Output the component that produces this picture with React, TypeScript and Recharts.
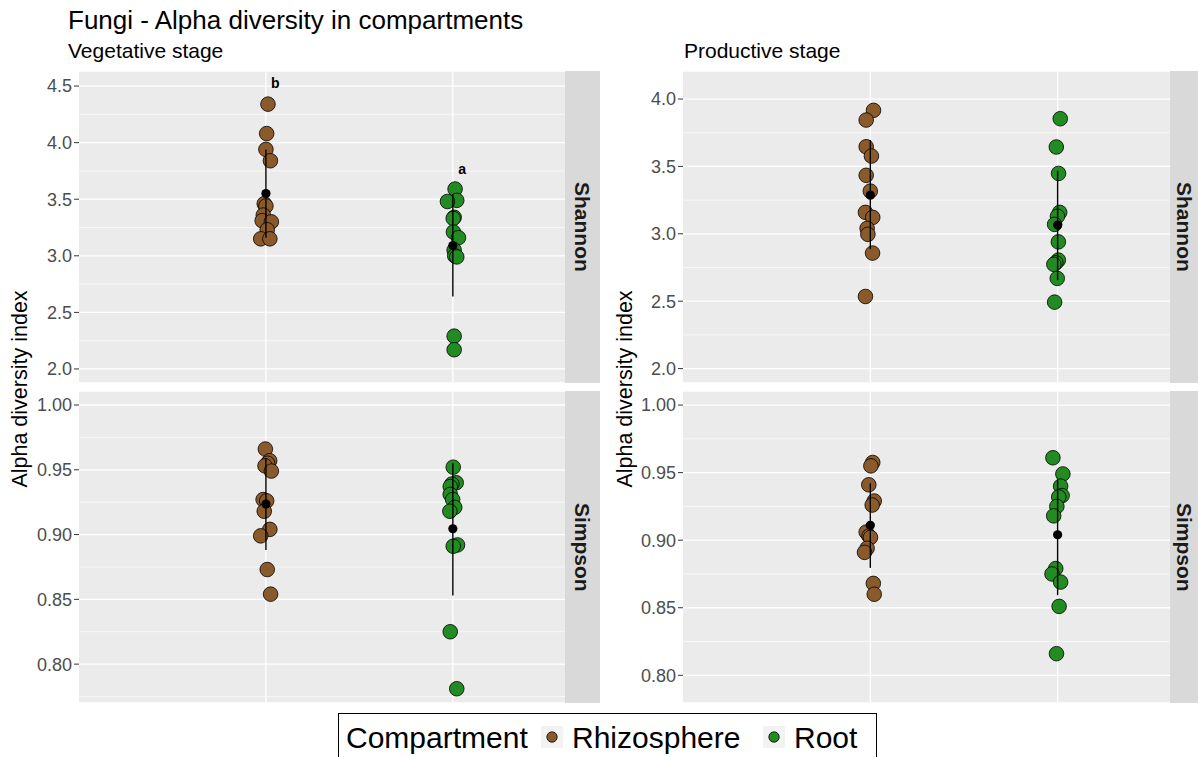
import {
  CartesianGrid,
  ReferenceLine,
  Scatter,
  ScatterChart,
  XAxis,
  YAxis,
} from "recharts";

const FONT = '"Liberation Sans", Arial, Helvetica, sans-serif';

const compartments = ["Rhizosphere", "Root"];
const COLORS = ["#8B5A2B", "#228B22"];
const stages = ["Vegetative stage", "Productive stage"];
const indices = ["Shannon", "Simpson"];
const title = "Fungi - Alpha diversity in compartments";
const yTitle = "Alpha diversity index";
const legendTitle = "Compartment";

// x jitter is in category units (Rhizosphere = 1, Root = 2)

// Vegetative stage - Shannon
const vegShannonRhizo = [4.34, 4.08, 3.94, 3.84, 3.46, 3.44, 3.36, 3.31, 3.3, 3.23, 3.15, 3.15];
const vegShannonRhizoJitter = [0.011, 0.004, 0, 0.024, -0.009, 0, -0.014, -0.02, 0.029, 0.007, -0.028, 0.021];
const vegShannonRoot = [3.59, 3.49, 3.48, 3.34, 3.33, 3.21, 3.16, 3.05, 3.0, 2.99, 2.29, 2.17];
const vegShannonRootJitter = [0.012, 0.021, -0.029, 0.007, 0.002, 0.003, 0.03, 0.007, 0.01, 0.021, 0.007, 0.007];
const vegShannonMean = [3.55, 3.09];
const vegShannonLow = [3.16, 2.64];
const vegShannonHigh = [3.94, 3.54];
const vegShannonLetters = ["b", "a"];
const vegShannonLetterY = [4.527, 3.764];

// Vegetative stage - Simpson
const vegSimpsonRhizo = [0.966, 0.957, 0.955, 0.953, 0.949, 0.927, 0.926, 0.918, 0.904, 0.899, 0.873, 0.854];
const vegSimpsonRhizoJitter = [-0.003, 0.02, 0.009, -0.005, 0.029, -0.015, 0.004, -0.009, 0.021, -0.028, 0.007, 0.025];
const vegSimpsonRoot = [0.952, 0.94, 0.939, 0.937, 0.931, 0.927, 0.921, 0.918, 0.892, 0.891, 0.825, 0.781];
const vegSimpsonRootJitter = [0.002, 0.018, -0.005, -0.014, -0.014, -0.001, 0.01, -0.016, 0.025, 0.002, -0.014, 0.021];
const vegSimpsonMean = [0.9235, 0.9045];
const vegSimpsonLow = [0.888, 0.853];
const vegSimpsonHigh = [0.959, 0.955];

// Productive stage - Shannon
const prodShannonRhizo = [3.916, 3.844, 3.646, 3.577, 3.434, 3.317, 3.159, 3.122, 3.04, 2.996, 2.857, 2.535];
const prodShannonRhizoJitter = [0.017, -0.022, -0.022, 0.006, -0.022, 0, -0.026, 0.013, -0.017, -0.013, 0.012, -0.026];
const prodShannonRoot = [3.854, 3.644, 3.448, 3.159, 3.13, 3.07, 2.94, 2.805, 2.785, 2.773, 2.669, 2.493];
const prodShannonRootJitter = [0.014, -0.007, 0.005, 0.011, -0.001, -0.016, 0.004, 0.004, -0.009, -0.02, -0.002, -0.016];
const prodShannonMean = [3.287, 3.065];
const prodShannonLow = [2.886, 2.656];
const prodShannonHigh = [3.696, 3.468];

// Productive stage - Simpson
const prodSimpsonRhizo = [0.9575, 0.955, 0.941, 0.929, 0.926, 0.906, 0.903, 0.902, 0.894, 0.891, 0.868, 0.86];
const prodSimpsonRhizoJitter = [0.013, 0.003, -0.008, 0.021, 0.01, -0.022, -0.007, 0.001, -0.017, -0.031, 0.016, 0.021];
const prodSimpsonRoot = [0.961, 0.949, 0.94, 0.933, 0.932, 0.925, 0.918, 0.879, 0.875, 0.869, 0.851, 0.816];
const prodSimpsonRootJitter = [-0.025, 0.028, 0.016, 0.024, 0.006, -0.004, -0.021, -0.01, -0.03, 0.016, 0.008, -0.006];
const prodSimpsonMean = [0.911, 0.904];
const prodSimpsonLow = [0.8795, 0.8593];
const prodSimpsonHigh = [0.942, 0.9444];

const shannonTicks = [2.0, 2.5, 3.0, 3.5, 4.0, 4.5];
const shannonMinor = [2.25, 2.75, 3.25, 3.75, 4.25];
const simpsonTicks = [0.8, 0.85, 0.9, 0.95, 1.0];
const simpsonMinor = [0.775, 0.825, 0.875, 0.925, 0.975];

interface PanelProps {
  width: number;
  axisWidth: number;
  domain: [number, number];
  ticks: number[];
  minor: number[];
  digits: number;
  values: number[][];
  jitter: number[][];
  mean: number[];
  low: number[];
  high: number[];
  letters?: string[];
  letterY?: number[];
}

const PANEL_H = 312;
const noShape = () => <g />;

function Panel(p: PanelProps) {
  const ticks = p.ticks.filter((t) => t >= p.domain[0] && t <= p.domain[1]);
  const minor = p.minor.filter((t) => t >= p.domain[0] && t <= p.domain[1]);
  const means = p.mean.map((m, i) => ({ x: i + 1, y: m }));
  const letters = (p.letters || []).map((l, i) => ({
    x: i + 1.05,
    y: p.letterY![i],
    label: l,
  }));
  return (
    <ScatterChart
      width={p.width}
      height={PANEL_H}
      margin={{ top: 0, right: 0, bottom: 0, left: 0 }}
    >
      <CartesianGrid fill="#EBEBEB" stroke="#FFFFFF" strokeWidth={1.3} vertical={false} />
      {minor.map((m) => (
        <ReferenceLine key={m} y={m} stroke="#FFFFFF" strokeWidth={0.6} />
      ))}
      {[1, 2].map((c) => (
        <ReferenceLine key={"v" + c} x={c} stroke="#FFFFFF" strokeWidth={1.3} />
      ))}
      <XAxis type="number" dataKey="x" domain={[0, 2.6]} hide allowDataOverflow />
      <YAxis
        type="number"
        dataKey="y"
        domain={p.domain}
        ticks={ticks}
        allowDataOverflow
        width={p.axisWidth}
        axisLine={false}
        tickSize={5}
        tickMargin={2}
        tickLine={{ stroke: "#333333" }}
        tick={{ fill: "#4D4D4D", fontSize: 18, fontFamily: FONT }}
        tickFormatter={(v: number) => v.toFixed(p.digits)}
      />
      {p.values.map((vals, gi) => (
        <Scatter
          key={compartments[gi]}
          name={compartments[gi]}
          data={vals.map((v, i) => ({ x: gi + 1 + p.jitter[gi][i], y: v }))}
          isAnimationActive={false}
          shape={(s: any) => (
            <circle
              cx={s.cx}
              cy={s.cy}
              r={7.3}
              fill={COLORS[gi]}
              stroke="#000000"
              strokeWidth={0.8}
            />
          )}
        />
      ))}
      {p.mean.map((_, i) => (
        <Scatter
          key={"sd" + i}
          data={[
            { x: i + 1, y: p.low[i] },
            { x: i + 1, y: p.high[i] },
          ]}
          isAnimationActive={false}
          line={{ stroke: "#000000", strokeWidth: 1.4 }}
          shape={noShape}
        />
      ))}
      <Scatter
        data={means}
        isAnimationActive={false}
        shape={(s: any) => <circle cx={s.cx} cy={s.cy} r={4.6} fill="#000000" />}
      />
      {letters.length > 0 && (
        <Scatter
          data={letters}
          isAnimationActive={false}
          shape={(s: any) => (
            <text
              x={s.cx}
              y={s.cy}
              textAnchor="middle"
              dominantBaseline="central"
              fontFamily={FONT}
              fontWeight="bold"
              fontSize={14}
              fill="#000000"
            >
              {s.payload.label}
            </text>
          )}
        />
      )}
    </ScatterChart>
  );
}

function Strip({ left, top, width, text }: { left: number; top: number; width: number; text: string }) {
  return (
    <div
      style={{
        position: "absolute",
        left,
        top,
        width,
        height: PANEL_H,
        background: "#D9D9D9",
        display: "flex",
        alignItems: "center",
        justifyContent: "center",
      }}
    >
      <span
        style={{
          writingMode: "vertical-rl",
          fontFamily: FONT,
          fontWeight: "bold",
          fontSize: 21,
          color: "#1A1A1A",
          lineHeight: 1,
        }}
      >
        {text}
      </span>
    </div>
  );
}

function YTitle({ cx }: { cx: number }) {
  return (
    <div
      style={{
        position: "absolute",
        left: cx - 150,
        top: 389 - 12,
        width: 300,
        height: 24,
        textAlign: "center",
        transform: "rotate(-90deg)",
        fontFamily: FONT,
        fontSize: 21.5,
        lineHeight: "24px",
        color: "#000000",
      }}
    >
      {yTitle}
    </div>
  );
}

function LegendKey({ left, color }: { left: number; color: string }) {
  return (
    <div
      style={{
        position: "absolute",
        left,
        top: 726,
        width: 22,
        height: 22,
        background: "#F2F2F2",
        display: "flex",
        alignItems: "center",
        justifyContent: "center",
      }}
    >
      <svg width={12} height={12}>
        <circle cx={6} cy={6} r={5.2} fill={color} stroke="#000" strokeWidth={0.8} />
      </svg>
    </div>
  );
}

const legendText = (left: number, text: string) => (
  <div
    style={{
      position: "absolute",
      left,
      top: 721,
      fontFamily: FONT,
      fontSize: 30,
      lineHeight: "34px",
      color: "#000000",
      whiteSpace: "nowrap",
    }}
  >
    {text}
  </div>
);

export default function App() {
  return (
    <div
      style={{
        position: "relative",
        width: 1198,
        height: 757,
        overflow: "hidden",
        background: "#FFFFFF",
        fontFamily: FONT,
      }}
    >
      <style>{"body{margin:0}"}</style>
      <div
        style={{
          position: "absolute",
          left: 68,
          top: 7,
          fontSize: 26,
          lineHeight: "26px",
          whiteSpace: "nowrap",
          color: "#000",
        }}
      >
        {title}
      </div>
      <div style={{ position: "absolute", left: 68, top: 40, fontSize: 21, lineHeight: "21px", color: "#000" }}>
        {stages[0]}
      </div>
      <div style={{ position: "absolute", left: 684, top: 40, fontSize: 21, lineHeight: "21px", color: "#000" }}>
        {stages[1]}
      </div>

      <div style={{ position: "absolute", left: 0, top: 71 }}>
        <Panel
          width={565}
          axisWidth={79}
          domain={[1.876, 4.633]}
          ticks={shannonTicks}
          minor={shannonMinor}
          digits={1}
          values={[vegShannonRhizo, vegShannonRoot]}
          jitter={[vegShannonRhizoJitter, vegShannonRootJitter]}
          mean={vegShannonMean}
          low={vegShannonLow}
          high={vegShannonHigh}
          letters={vegShannonLetters}
          letterY={vegShannonLetterY}
        />
      </div>
      <div style={{ position: "absolute", left: 0, top: 391 }}>
        <Panel
          width={565}
          axisWidth={79}
          domain={[0.77, 1.0108]}
          ticks={simpsonTicks}
          minor={simpsonMinor}
          digits={2}
          values={[vegSimpsonRhizo, vegSimpsonRoot]}
          jitter={[vegSimpsonRhizoJitter, vegSimpsonRootJitter]}
          mean={vegSimpsonMean}
          low={vegSimpsonLow}
          high={vegSimpsonHigh}
        />
      </div>
      <div style={{ position: "absolute", left: 600, top: 71 }}>
        <Panel
          width={570}
          axisWidth={83}
          domain={[1.893, 4.208]}
          ticks={shannonTicks}
          minor={shannonMinor}
          digits={1}
          values={[prodShannonRhizo, prodShannonRoot]}
          jitter={[prodShannonRhizoJitter, prodShannonRootJitter]}
          mean={prodShannonMean}
          low={prodShannonLow}
          high={prodShannonHigh}
        />
      </div>
      <div style={{ position: "absolute", left: 600, top: 391 }}>
        <Panel
          width={570}
          axisWidth={83}
          domain={[0.7795, 1.0104]}
          ticks={simpsonTicks}
          minor={simpsonMinor}
          digits={2}
          values={[prodSimpsonRhizo, prodSimpsonRoot]}
          jitter={[prodSimpsonRhizoJitter, prodSimpsonRootJitter]}
          mean={prodSimpsonMean}
          low={prodSimpsonLow}
          high={prodSimpsonHigh}
        />
      </div>

      <Strip left={565} top={71} width={35} text={indices[0]} />
      <Strip left={565} top={391} width={35} text={indices[1]} />
      <Strip left={1170} top={71} width={28} text={indices[0]} />
      <Strip left={1170} top={391} width={28} text={indices[1]} />

      <YTitle cx={20} />
      <YTitle cx={625} />

      <div
        style={{
          position: "absolute",
          left: 338,
          top: 713,
          width: 539,
          height: 60,
          border: "1.3px solid #000",
          boxSizing: "border-box",
        }}
      />
      {legendText(346, legendTitle)}
      <LegendKey left={541} color={COLORS[0]} />
      {legendText(572, compartments[0])}
      <LegendKey left={763} color={COLORS[1]} />
      {legendText(794, compartments[1])}
    </div>
  );
}
